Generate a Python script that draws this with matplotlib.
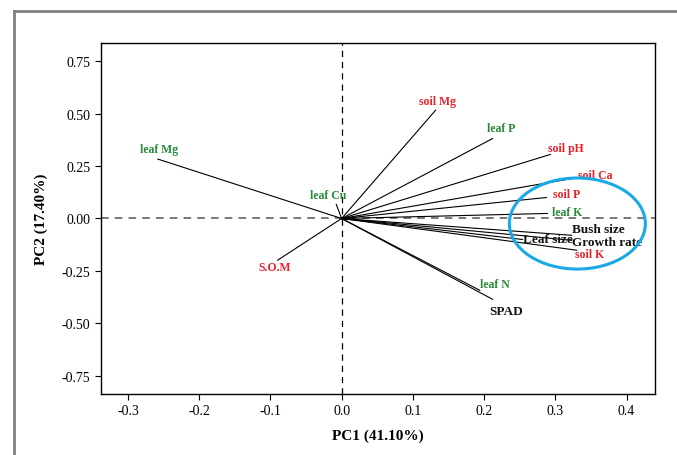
import matplotlib
matplotlib.use("Agg")
import matplotlib.pyplot as plt
from matplotlib.patches import Ellipse
from matplotlib.lines import Line2D

plt.rcParams['font.family'] = ['Liberation Serif', 'DejaVu Serif']

# loadings (PC1, PC2)
names = ["leaf Mg", "leaf Cu", "S.O.M", "soil Mg", "leaf P", "soil pH", "soil Ca",
         "soil P", "leaf K", "Bush size", "Growth rate", "Leaf size", "soil K",
         "leaf N", "SPAD"]
pc1 = [-0.258, -0.0075, -0.090, 0.132, 0.212, 0.293, 0.330,
       0.2875, 0.289, 0.323, 0.323, 0.254, 0.330, 0.194, 0.212]
pc2 = [0.283, 0.067, -0.199, 0.516, 0.381, 0.305, 0.194,
       0.100, 0.024, -0.080, -0.104, -0.100, -0.151, -0.342, -0.385]
groups = ["leaf", "leaf", "soil", "soil", "leaf", "soil", "soil",
          "soil", "leaf", "plant", "plant", "plant", "soil", "leaf", "plant"]

xticks = [-0.3, -0.2, -0.1, 0.0, 0.1, 0.2, 0.3, 0.4]
yticks = [-0.75, -0.50, -0.25, 0.00, 0.25, 0.50, 0.75]

colors = {"soil": "#e8202a", "leaf": "#2a8a3a", "plant": "#111111"}
sizes = {"soil": 8.5, "leaf": 8.5, "plant": 9.5}
# label offsets in pixels from arrow tip (right, up)
offsets = {"leaf Mg": (1, 10), "leaf Cu": (-8, 9), "S.O.M": (-3, -7),
           "soil Mg": (2, 9), "leaf P": (9, 11), "soil pH": (16, 6),
           "soil Ca": (19, 3), "soil P": (20, 4), "leaf K": (20, 1),
           "Bush size": (0, 6), "Growth rate": (0, -2), "Leaf size": (0, 0),
           "soil K": (13, -4), "leaf N": (15, 6), "SPAD": (14, -12)}
left_aligned = ["Bush size", "Growth rate", "Leaf size"]

fig = plt.figure(figsize=(6.77, 4.56), dpi=100)
ax = fig.add_axes([0.149, 0.1338, 0.8185, 0.7697])

# outer frame (cropped at right and bottom)
fig.add_artist(Line2D([0.0207, 0.0207], [0, 0.9737], transform=fig.transFigure,
                      color="#808080", lw=2))
fig.add_artist(Line2D([0.0207, 1.0], [0.9737, 0.9737], transform=fig.transFigure,
                      color="#808080", lw=2))

ax.axhline(0, color="#555555", ls=(0, (5, 4)), lw=1.1, zorder=1)
ax.axvline(0, color="black", ls=(0, (5, 4)), lw=0.9, zorder=1)

for n, x, y, g in zip(names, pc1, pc2, groups):
    ax.plot([0, x], [0, y], color="black", lw=0.8, zorder=2)
    dx, dy = offsets[n]
    ha = "left" if n in left_aligned else "center"
    ax.annotate(n, (x, y), xytext=(dx, dy), textcoords="offset pixels",
                ha=ha, va="center", color=colors[g], fontsize=sizes[g],
                fontweight="bold", zorder=3)

ax.add_patch(Ellipse((0.331, -0.024), 136 / 712, 91 / 209.8, fill=False,
                     edgecolor="#1aa8e6", lw=2.2, zorder=4))

ax.set_xlim(-0.338, 0.44)
ax.set_ylim(-0.836, 0.836)
ax.set_xticks(xticks)
ax.set_xticklabels([f"{t:.1f}" for t in xticks])
ax.set_yticks(yticks)
ax.set_yticklabels([f"{t:.2f}" for t in yticks])
ax.tick_params(direction="out", length=4, width=0.8, labelsize=10)
for s in ax.spines.values():
    s.set_linewidth(1.0)

ax.set_xlabel("PC1 (41.10%)", fontsize=11, fontweight="bold", labelpad=8)
ax.set_ylabel("PC2 (17.40%)", fontsize=11, fontweight="bold", labelpad=10)

fig.savefig("out.png", dpi=100)
